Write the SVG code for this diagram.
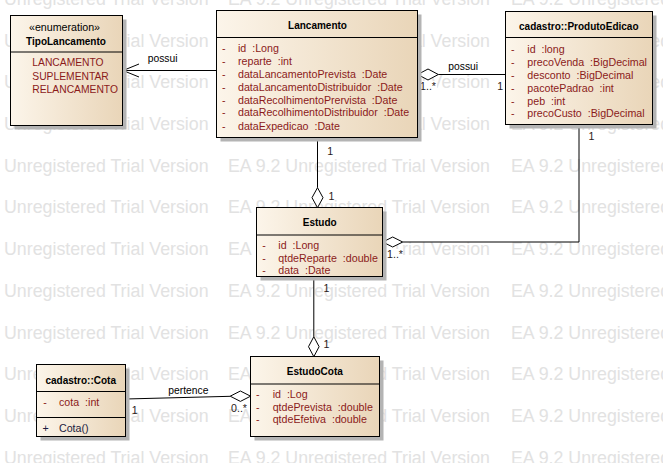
<svg xmlns="http://www.w3.org/2000/svg" xmlns:xlink="http://www.w3.org/1999/xlink" width="663" height="463" viewBox="0 0 663 463">
<style>
text{font-family:"Liberation Sans",Arial,sans-serif;white-space:pre}
.wm{font-size:17.8px;fill:#e2e2e2}
.box{fill:url(#fillg);stroke:#000;stroke-width:1}
.sh{fill:#b4b4b4}
.div{stroke:#000;stroke-width:1}
.title{font-size:10px;font-weight:bold;fill:#000;text-anchor:middle}
.stereo{font-size:10.67px;fill:#000;text-anchor:middle}
.attr{font-size:10.67px;fill:#8b1a1a}
.lit{font-size:10.3px;fill:#8b1a1a}
.op{font-size:10.67px;fill:#1a1a40}
.con{stroke:#000;stroke-width:1;fill:none}
.dia{stroke:#000;stroke-width:1;fill:#fff}
.lbl{font-size:10.3px;fill:#000}
.mul{font-size:10.67px;fill:#2a1a1a}
.bg{fill:#fff}
</style>
<defs>
<linearGradient id="fillg" x1="0" y1="0" x2="1" y2="0">
<stop offset="0" stop-color="#fcf5ea"/>
<stop offset="1" stop-color="#e9d5b8"/>
</linearGradient>
<g id="wmrow">
<text class="wm" x="4" y="0">Unregistered Trial Version</text>
<text class="wm" x="228" y="0">EA 9.2 Unregistered Trial Version</text>
<text class="wm" x="511" y="0">EA 9.2 Unregistered Trial Version</text>
</g>
</defs>
<rect width="663" height="463" fill="#fff"/>
<g id="watermark">
<use xlink:href="#wmrow" y="4.9"/>
<use xlink:href="#wmrow" y="46.6"/>
<use xlink:href="#wmrow" y="88.3"/>
<use xlink:href="#wmrow" y="130"/>
<use xlink:href="#wmrow" y="171.7"/>
<use xlink:href="#wmrow" y="213.4"/>
<use xlink:href="#wmrow" y="255.1"/>
<use xlink:href="#wmrow" y="296.8"/>
<use xlink:href="#wmrow" y="338.5"/>
<use xlink:href="#wmrow" y="380.2"/>
<use xlink:href="#wmrow" y="421.9"/>
<use xlink:href="#wmrow" y="463.6"/>
</g>

<g id="connectors">
<path class="con" d="M216.5 70.5 H123"/>
<path class="con" d="M139 64 L123 70.5 L139 77"/>
<text class="lbl" x="147.7" y="61.5">possui</text>

<path class="con" d="M438.3 74.5 H505.5"/>
<path class="dia" d="M417.7 74.5 L428 69 L438.3 74.5 L428 80 Z"/>
<text class="lbl" x="448.3" y="70">possui</text>
<rect class="bg" x="419" y="81" width="18" height="10"/>
<text class="mul" x="420" y="89.5">1..*</text>
<text class="mul" x="497.3" y="89.5">1</text>

<path class="con" d="M317.5 137.5 V187.7"/>
<path class="dia" d="M317.5 187.7 L323 197.7 L317.5 207.7 L312 197.7 Z"/>
<text class="mul" x="327.3" y="154.5">1</text>
<text class="mul" x="328.5" y="199.5">1</text>

<path class="con" d="M579 124.5 V242 H402.7"/>
<path class="dia" d="M382.7 242 L392.7 237 L402.7 242 L392.7 247 Z"/>
<rect class="bg" x="386" y="249" width="17" height="10"/>
<text class="mul" x="387" y="257.8">1..*</text>
<text class="mul" x="588.6" y="140">1</text>

<path class="con" d="M313.8 276.5 V336.7"/>
<path class="dia" d="M313.8 336.7 L319.1 346.7 L313.8 356.7 L308.5 346.7 Z"/>
<text class="mul" x="323.5" y="292">1</text>
<text class="mul" x="323.5" y="348">1</text>

<path class="con" d="M125.5 399 L230.2 396.3"/>
<path class="dia" d="M230.2 396.2 L240.4 391 L250.6 396.2 L240.4 401.4 Z"/>
<text class="lbl" x="168.3" y="393.5">pertence</text>
<text class="mul" x="131.7" y="414">1</text>
<text class="mul" x="231" y="412">0..*</text>
</g>

<g id="TipoLancamento">
<rect class="sh" x="14.5" y="19.5" width="112" height="110"/>
<rect class="box" x="10.5" y="15.5" width="112" height="110"/>
<line class="div" x1="10.5" y1="52" x2="122.5" y2="52"/>
<text class="stereo" x="64.5" y="30.8">«enumeration»</text>
<text class="title" x="66" y="44.6">TipoLancamento</text>
<text class="lit" x="32.3" y="66.1">LANCAMENTO</text>
<text class="lit" x="32.3" y="79.5">SUPLEMENTAR</text>
<text class="lit" x="32.3" y="92.7">RELANCAMENTO</text>
</g>

<g id="Lancamento">
<rect class="sh" x="220.5" y="14.5" width="201" height="127"/>
<rect class="box" x="216.5" y="10.5" width="201" height="127"/>
<line class="div" x1="216.5" y1="37.5" x2="417.5" y2="37.5"/>
<text class="title" x="317.5" y="29.3">Lancamento</text>
<text class="attr" x="222" y="52.1">-</text><text class="attr" x="238" y="52.1">id  :Long</text>
<text class="attr" x="222" y="65.1">-</text><text class="attr" x="238" y="65.1">reparte  :int</text>
<text class="attr" x="222" y="77.8">-</text><text class="attr" x="238" y="77.8">dataLancamentoPrevista  :Date</text>
<text class="attr" x="222" y="90.8">-</text><text class="attr" x="238" y="90.8">dataLancamentoDistribuidor  :Date</text>
<text class="attr" x="222" y="103.5">-</text><text class="attr" x="238" y="103.5">dataRecolhimentoPrervista  :Date</text>
<text class="attr" x="222" y="116.3">-</text><text class="attr" x="238" y="116.3">dataRecolhimentoDistribuidor  :Date</text>
<text class="attr" x="222" y="129.6">-</text><text class="attr" x="238" y="129.6">dataExpedicao  :Date</text>
</g>

<g id="ProdutoEdicao">
<rect class="sh" x="509.5" y="15.5" width="147" height="113"/>
<rect class="box" x="505.5" y="11.5" width="147" height="113"/>
<line class="div" x1="505.5" y1="37.5" x2="652.5" y2="37.5"/>
<text class="title" x="578.8" y="30.3">cadastro::ProdutoEdicao</text>
<text class="attr" x="511" y="53.1">-</text><text class="attr" x="527.3" y="53.1">id  :long</text>
<text class="attr" x="511" y="65.8">-</text><text class="attr" x="527.3" y="65.8">precoVenda  :BigDecimal</text>
<text class="attr" x="511" y="78.5">-</text><text class="attr" x="527.3" y="78.5">desconto  :BigDecimal</text>
<text class="attr" x="511" y="91.6">-</text><text class="attr" x="527.3" y="91.6">pacotePadrao  :int</text>
<text class="attr" x="511" y="104.5">-</text><text class="attr" x="527.3" y="104.5">peb  :int</text>
<text class="attr" x="511" y="117.4">-</text><text class="attr" x="527.3" y="117.4">precoCusto  :BigDecimal</text>
</g>

<g id="Estudo">
<rect class="sh" x="260.5" y="211.5" width="126" height="69"/>
<rect class="box" x="256.5" y="207.5" width="126" height="69"/>
<line class="div" x1="256.5" y1="235" x2="382.5" y2="235"/>
<text class="title" x="319.7" y="225.9">Estudo</text>
<text class="attr" x="262.3" y="249.1">-</text><text class="attr" x="278.3" y="249.1">id  :Long</text>
<text class="attr" x="262.3" y="261.8">-</text><text class="attr" x="278.3" y="261.8">qtdeReparte  :double</text>
<text class="attr" x="262.3" y="274.4">-</text><text class="attr" x="278.3" y="274.4">data  :Date</text>
</g>

<g id="Cota">
<rect class="sh" x="40.5" y="368.5" width="89" height="72"/>
<rect class="box" x="36.5" y="364.5" width="89" height="72"/>
<line class="div" x1="36.5" y1="391.5" x2="125.5" y2="391.5"/>
<line class="div" x1="36.5" y1="417.5" x2="125.5" y2="417.5"/>
<text class="title" x="80.7" y="383.6">cadastro::Cota</text>
<text class="attr" x="43.3" y="406.1">-</text><text class="attr" x="59" y="406.1">cota  :int</text>
<text class="op" x="42.5" y="432.1">+</text><text class="op" x="59" y="432.1">Cota()</text>
</g>

<g id="EstudoCota">
<rect class="sh" x="254.5" y="360.5" width="129" height="80"/>
<rect class="box" x="250.5" y="356.5" width="129" height="80"/>
<line class="div" x1="250.5" y1="384" x2="379.5" y2="384"/>
<text class="title" x="314.8" y="375.3">EstudoCota</text>
<text class="attr" x="256" y="398.1">-</text><text class="attr" x="272.7" y="398.1">id  :Log</text>
<text class="attr" x="256" y="410.8">-</text><text class="attr" x="272.7" y="410.8">qtdePrevista  :double</text>
<text class="attr" x="256" y="423.4">-</text><text class="attr" x="272.7" y="423.4">qtdeEfetiva  :double</text>
</g>
</svg>
